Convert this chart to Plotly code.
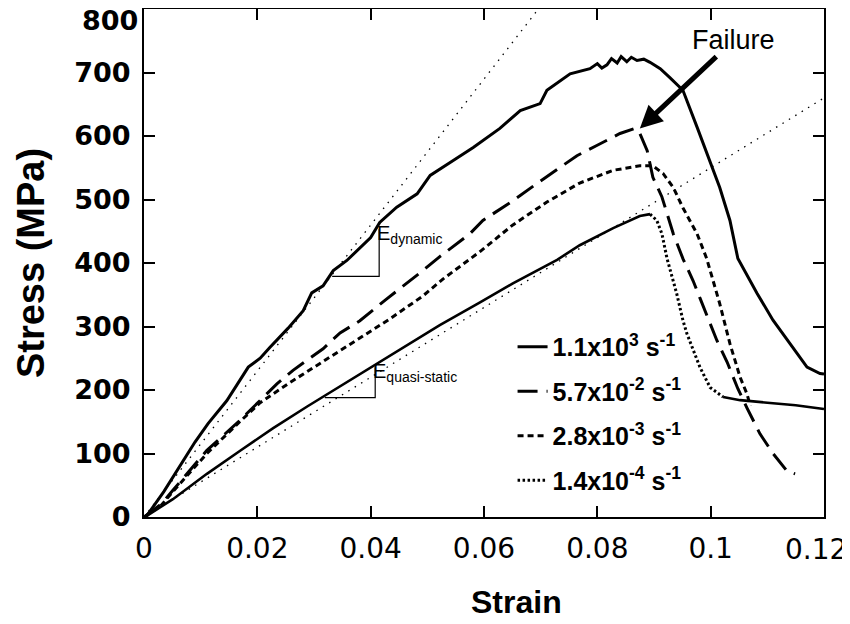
import plotly.graph_objects as go

# ---- data ----
strain_dyn = [0, 0.0005, 0.0035, 0.0069, 0.0090, 0.0113, 0.0146, 0.0184, 0.0205, 0.0222, 0.0254, 0.0281,
              0.0296, 0.0316, 0.0334, 0.0358, 0.0381, 0.0400, 0.0416, 0.0446, 0.0482, 0.0505, 0.0545,
              0.0581, 0.0628, 0.0664, 0.0699, 0.0711, 0.0752, 0.0787, 0.0800, 0.0808, 0.0817, 0.0825,
              0.0835, 0.0842, 0.0852, 0.0860, 0.0870, 0.0882, 0.0893, 0.0911, 0.0928, 0.0951, 0.0976,
              0.0999, 0.1016, 0.1034, 0.1048, 0.1082, 0.1110, 0.1140, 0.1170, 0.1193, 0.1200]
stress_dyn = [0, 2, 40, 89, 118, 147, 183, 236, 250, 267, 297, 325,
              353, 364, 388, 404, 424, 440, 464, 488, 509, 538, 561,
              582, 612, 640, 651, 672, 698, 706, 714, 707, 712, 722,
              715, 725, 717, 724, 719, 721, 716, 706, 692, 672, 614,
              561, 519, 467, 407, 352, 310, 273, 236, 226, 225]

strain_57 = [0, 0.003, 0.0051, 0.0111, 0.0169, 0.0205, 0.0235, 0.0263, 0.0316, 0.0346, 0.0381, 0.0429,
             0.0464, 0.0492, 0.0522, 0.0575, 0.0598, 0.0651, 0.0693, 0.0764, 0.0799, 0.0840, 0.0866,
             0.0875, 0.0888, 0.0898, 0.0914, 0.0934, 0.0951, 0.0969, 0.0981, 0.0999, 0.1011, 0.1029,
             0.1048, 0.1064, 0.1087, 0.1110, 0.1135, 0.1149]
stress_57 = [0, 20, 42, 105, 152, 183, 210, 231, 265, 290, 309, 344,
             368, 388, 410, 446, 467, 498, 525, 569, 585, 604, 612,
             604, 577, 535, 504, 446, 407, 372, 345, 305, 278, 244,
             202, 172, 131, 100, 72, 68]

strain_28 = [0, 0.003, 0.0051, 0.0111, 0.0169, 0.0205, 0.0258, 0.0316, 0.0376, 0.0434, 0.0492, 0.0528,
             0.0593, 0.0651, 0.0711, 0.0769, 0.0828, 0.0875, 0.0898, 0.0916, 0.0934, 0.0951, 0.0976,
             0.0993, 0.1016, 0.1034, 0.1052, 0.1064, 0.1070]
stress_28 = [0, 18, 40, 100, 150, 180, 212, 245, 278, 312, 348, 375,
             418, 460, 496, 526, 546, 553, 553, 541, 519, 487, 446,
             407, 336, 273, 220, 194, 175]

strain_14 = [0, 0.0005, 0.0051, 0.0111, 0.0169, 0.0228, 0.0288, 0.0346, 0.0404, 0.0464, 0.0522, 0.0593,
             0.0651, 0.0729, 0.0769, 0.0828, 0.0875, 0.0893, 0.0905, 0.0914, 0.0923, 0.0940, 0.0951,
             0.0958, 0.0981, 0.0999, 0.1022, 0.1052, 0.1100, 0.1150, 0.1193, 0.1200]
stress_14 = [0, 2, 28, 68, 104, 140, 174, 206, 238, 270, 302, 338,
             368, 405, 428, 455, 474, 477, 467, 446, 407, 352, 310,
             289, 236, 204, 189, 184, 180, 176, 171, 170]
peak_idx_14 = 17   # end of rising branch
tail_idx_14 = 26   # start of flat tail

# slope guide lines (E dynamic, E quasi-static)
guide_dyn_x = [0, 0.0696]
guide_dyn_y = [0, 800]
guide_qs_x = [0, 0.12]
guide_qs_y = [0, 660]
tri_dyn_x = [0.0332, 0.0415, 0.0415]
tri_dyn_y = [379, 379, 453]
tri_qs_x = [0.0319, 0.0408, 0.0408]
tri_qs_y = [188, 188, 236]

# failure point
fail_x, fail_y = 0.0875, 612
fail_text_x, fail_text_y = 0.1041, 751

x_ticks = [0, 0.02, 0.04, 0.06, 0.08, 0.1, 0.12]
x_ticklabels = ["0", "0.02", "0.04", "0.06", "0.08", "0.1", "0.12"]
y_ticks = [0, 100, 200, 300, 400, 500, 600, 700, 800]
y_ticklabels = ["0", "100", "200", "300", "400", "500", "600", "700", "800"]

names = ["1.1x10<sup>3</sup> s<sup>-1</sup>", "5.7x10<sup>-2</sup> s<sup>-1</sup>",
         "2.8x10<sup>-3</sup> s<sup>-1</sup>", "1.4x10<sup>-4</sup> s<sup>-1</sup>"]

BLACK = "black"
XTICK_FONT = dict(family="DejaVu Sans", size=28, color=BLACK)
YTICK_FONT = dict(family="DejaVu Sans", size=27, color=BLACK, weight="bold")
fig = go.Figure()

# guide lines
fig.add_trace(go.Scatter(x=guide_dyn_x, y=guide_dyn_y, mode="lines", showlegend=False,
                         line=dict(color=BLACK, width=1.3, dash="1.5px,6px"), hoverinfo="skip"))
fig.add_trace(go.Scatter(x=guide_qs_x, y=guide_qs_y, mode="lines", showlegend=False,
                         line=dict(color=BLACK, width=1.3, dash="1.5px,6px"), hoverinfo="skip"))
fig.add_trace(go.Scatter(x=tri_dyn_x, y=tri_dyn_y, mode="lines", showlegend=False,
                         line=dict(color=BLACK, width=1.2), hoverinfo="skip"))
fig.add_trace(go.Scatter(x=tri_qs_x, y=tri_qs_y, mode="lines", showlegend=False,
                         line=dict(color=BLACK, width=1.2), hoverinfo="skip"))

# curves
fig.add_trace(go.Scatter(x=strain_dyn, y=stress_dyn, mode="lines", name=names[0],
                         legendgroup="a", legendrank=1,
                         line=dict(color=BLACK, width=3)))
fig.add_trace(go.Scatter(x=strain_57, y=stress_57, mode="lines", name=names[1],
                         legendgroup="b", legendrank=2,
                         line=dict(color=BLACK, width=3, dash="20px,9px")))
fig.add_trace(go.Scatter(x=strain_28, y=stress_28, mode="lines", name=names[2],
                         legendgroup="c", legendrank=3,
                         line=dict(color=BLACK, width=3, dash="6px,4px")))
fig.add_trace(go.Scatter(x=strain_14[:peak_idx_14 + 1], y=stress_14[:peak_idx_14 + 1], mode="lines",
                         showlegend=False, legendgroup="d",
                         line=dict(color=BLACK, width=2.6)))
fig.add_trace(go.Scatter(x=strain_14[peak_idx_14:tail_idx_14 + 1], y=stress_14[peak_idx_14:tail_idx_14 + 1],
                         mode="lines", name=names[3], legendgroup="d", legendrank=4,
                         line=dict(color=BLACK, width=3, dash="2.5px,2.5px")))
fig.add_trace(go.Scatter(x=strain_14[tail_idx_14:], y=stress_14[tail_idx_14:], mode="lines",
                         showlegend=False, legendgroup="d",
                         line=dict(color=BLACK, width=2.6)))

# edge tick labels that would be clipped by the page edge: drawn as annotations, nudged inward
fig.add_annotation(x=x_ticks[-1], xref="x", y=0, yref="paper", text=x_ticklabels[-1],
                   showarrow=False, xanchor="right", yanchor="top", xshift=25, yshift=-14,
                   font=XTICK_FONT)
fig.add_annotation(x=0, xref="paper", y=y_ticks[-1], yref="y", text=y_ticklabels[-1],
                   showarrow=False, xanchor="right", yanchor="top", xshift=-4, yshift=6,
                   font=YTICK_FONT)

# annotations
fig.add_annotation(x=fail_x, y=fail_y, ax=fail_text_x, ay=fail_text_y, axref="x", ayref="y",
                   text="Failure", showarrow=True, arrowhead=2, arrowsize=0.9, arrowwidth=5,
                   arrowcolor=BLACK, font=dict(family="Liberation Sans, Arial", size=27, color=BLACK))
fig.add_annotation(x=tri_dyn_x[1], y=tri_dyn_y[2], text="E<sub>dynamic</sub>", showarrow=False,
                   xanchor="left", yanchor="top", xshift=-4, yshift=9,
                   font=dict(family="Liberation Sans, Arial", size=20, color=BLACK))
fig.add_annotation(x=tri_qs_x[1], y=tri_qs_y[2], text="E<sub>quasi-static</sub>", showarrow=False,
                   xanchor="left", yanchor="top", xshift=-4, yshift=9,
                   font=dict(family="Liberation Sans, Arial", size=20, color=BLACK))
fig.add_annotation(xref="paper", yref="paper", x=0.5485, y=-0.167, text="<b>Strain</b>",
                   showarrow=False, xanchor="center", yanchor="middle",
                   font=dict(family="Liberation Sans, Arial", size=32, color=BLACK))

# the page has an 8px body margin: size the figure so that it fits the 850x624 window
fig.update_layout(
    width=842, height=616,
    margin=dict(l=136, r=26, t=1, b=107),
    paper_bgcolor="white", plot_bgcolor="white",
    showlegend=True,
    legend=dict(x=0.542, y=0.38, xanchor="left", yanchor="top",
                bgcolor="rgba(0,0,0,0)", borderwidth=0,
                traceorder="grouped", tracegroupgap=9,
                font=dict(family="Liberation Sans, Arial", size=25, color=BLACK, weight="bold")),
    xaxis=dict(range=[0, 0.12], tickvals=x_ticks[:-1], ticktext=x_ticklabels[:-1],
               automargin=False,
               showgrid=False, zeroline=False,
               showline=True, linecolor=BLACK, linewidth=2, mirror="ticks",
               ticks="inside", ticklen=11, tickwidth=1.6, tickcolor=BLACK,
               ticklabelstandoff=5, ticklabeloverflow="allow",
               tickfont=XTICK_FONT),
    yaxis=dict(range=[0, 800], tickvals=y_ticks[:-1], ticktext=y_ticklabels[:-1],
               automargin=False,
               showgrid=False, zeroline=False,
               showline=True, linecolor=BLACK, linewidth=2, mirror="ticks",
               ticks="inside", ticklen=11, tickwidth=1.6, tickcolor=BLACK,
               ticklabelstandoff=6, ticklabeloverflow="allow",
               tickfont=YTICK_FONT,
               title=dict(text="<b>Stress (MPa)</b>", standoff=18,
                          font=dict(family="Liberation Sans, Arial", size=38, color=BLACK))),
)

fig.write_html("out.html")
